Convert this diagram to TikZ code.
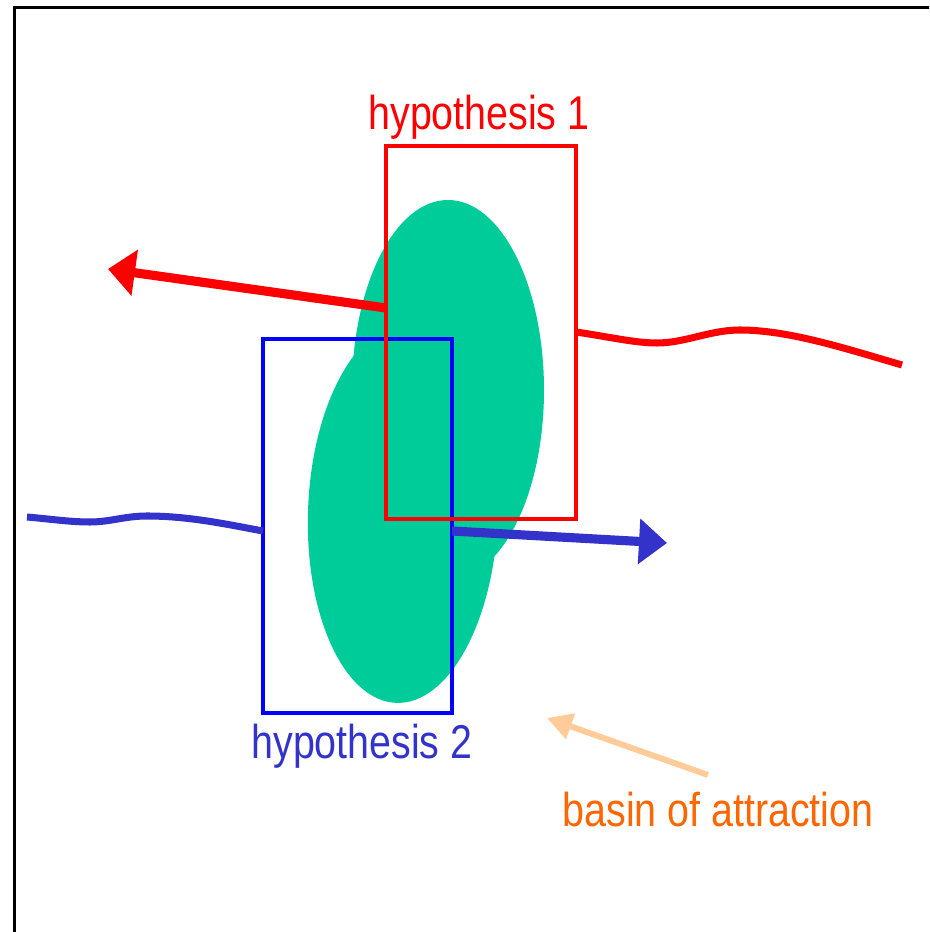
\documentclass[tikz,border=0pt]{standalone}
\usepackage{fontspec}
\setmainfont[FakeStretch=0.83]{Liberation Sans}
\usepackage{xcolor}
\usepackage{tikz}
\usetikzlibrary{arrows.meta}
\definecolor{hypred}{HTML}{FF0000}
\definecolor{hypblue}{HTML}{0000FF}
\definecolor{trackblue}{HTML}{3333CC}
\definecolor{basingreen}{HTML}{00CC99}
\definecolor{basinorange}{HTML}{FF6600}
\definecolor{pointerorange}{HTML}{FFCC99}

\begin{document}
\begin{tikzpicture}[font=\fontsize{13.5}{16}\selectfont]
  \useasboundingbox (0,0) rectangle (9.29,9.32);
  \clip (0,0) rectangle (9.29,9.32);
  % frame
  \draw[black,line width=0.85pt] (0.145,-0.1) -- (0.145,9.24) -- (9.4,9.24);
  % basin
  \fill[basingreen] (4.48,5.42) ellipse [x radius=0.96, y radius=1.90];
  \fill[basingreen,rotate around={-2:(4.03,4.19)}] (4.03,4.19) ellipse [x radius=0.95, y radius=1.90];
  % hypotheses
  \draw[hypblue,line width=1.15pt] (2.63,5.93) rectangle (4.52,2.19);
  \draw[hypred,line width=1.15pt] (3.86,7.86) rectangle (5.76,4.13);
  \node[anchor=base,inner sep=0,text=hypred] (hypone) at (4.79,8.02) {hypothesis 1};
  \node[anchor=base,inner sep=0,text=trackblue] (hyptwo) at (3.62,1.73) {hypothesis 2};
  % tracks
  \draw[hypred,line width=2.6pt,-{Triangle[length=2.7mm,width=4.5mm]}] (3.86,6.24) -- (1.08,6.63);
  \draw[hypred,line width=2pt] (5.76,6.00) .. controls (6.1,5.95) and (6.35,5.89) .. (6.57,5.89)
    .. controls (6.85,5.89) and (7.1,6.02) .. (7.40,6.02) .. controls (7.9,6.02) and (8.5,5.82) .. (9.02,5.67);
  \draw[trackblue,line width=2pt] (0.27,4.15) .. controls (0.5,4.13) and (0.7,4.10) .. (0.90,4.10)
    .. controls (1.1,4.10) and (1.25,4.16) .. (1.47,4.16) .. controls (1.9,4.16) and (2.3,4.07) .. (2.63,4.01);
  \draw[trackblue,line width=2.6pt,-{Triangle[length=2.8mm,width=4.4mm]}] (4.52,4.01) -- (6.67,3.89);
  % pointer
  \node[anchor=base,inner sep=0,text=basinorange] (basinlbl) at (7.18,1.05) {basin of attraction};
  \coordinate (pointtail) at (7.08,1.57);
  \coordinate (pointtip) at (5.47,2.14);
  \draw[pointerorange,line width=1.7pt,-{Triangle[length=2.5mm,width=2.6mm]}] (pointtail) -- (pointtip);
\end{tikzpicture}
\end{document}
